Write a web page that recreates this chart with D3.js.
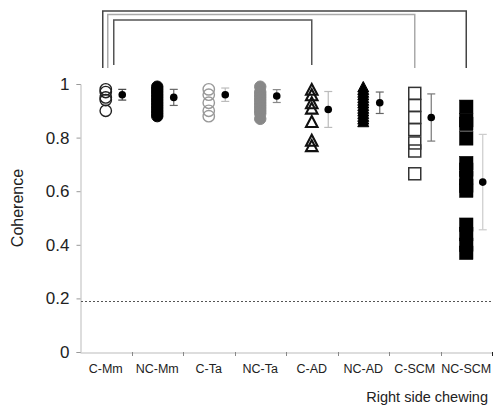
<!DOCTYPE html>
<html>
<head>
<meta charset="utf-8">
<script src="https://cdn.jsdelivr.net/npm/d3@7"></script>
<style>
  html, body { margin: 0; padding: 0; background: #fff; }
  svg { display: block; font-family: "Liberation Sans", Arial, sans-serif; }
</style>
</head>
<body>
<svg id="chart" width="495" height="409"></svg>
<script>
// ---- data ----
const categories = ["C-Mm", "NC-Mm", "C-Ta", "NC-Ta", "C-AD", "NC-AD", "C-SCM", "NC-SCM"];
const valuesCMm   = [0.98, 0.97, 0.95, 0.94, 0.90];
const valuesNCMm  = [0.99, 0.98, 0.97, 0.96, 0.95, 0.94, 0.93, 0.92, 0.91, 0.90, 0.89, 0.88];
const valuesCTa   = [0.98, 0.96, 0.93, 0.90, 0.88];
const valuesNCTa  = [0.99, 0.97, 0.96, 0.95, 0.94, 0.93, 0.92, 0.91, 0.90, 0.89, 0.87];
const valuesCAD   = [0.98, 0.96, 0.93, 0.91, 0.86, 0.79, 0.77];
const valuesNCAD  = [0.99, 0.98, 0.97, 0.96, 0.95, 0.94, 0.93, 0.92, 0.91, 0.90, 0.89, 0.88, 0.87, 0.86];
const valuesCSCM  = [0.965, 0.92, 0.875, 0.83, 0.78, 0.75, 0.665];
const valuesNCSCM = [0.915, 0.865, 0.851, 0.797, 0.705, 0.68, 0.65, 0.62, 0.602, 0.475, 0.44, 0.40, 0.37];
const means = [0.96, 0.95, 0.96, 0.955, 0.905, 0.93, 0.875, 0.634];
const sds   = [0.02, 0.03, 0.025, 0.024, 0.067, 0.04, 0.088, 0.178];
const yTicks = [0, 0.2, 0.4, 0.6, 0.8, 1];
const threshold = 0.19;
const brackets = [ // [from category, to category]
  ["C-Mm", "NC-SCM"],
  ["C-Mm", "C-SCM"],
  ["C-Mm", "C-AD"]
];
const yLabel = "Coherence";
const xLabel = "Right side chewing";

// ---- styles ----
const seriesValues = [valuesCMm, valuesNCMm, valuesCTa, valuesNCTa, valuesCAD, valuesNCAD, valuesCSCM, valuesNCSCM];
const markerStyle = [
  { shape: "circle",   fill: "none",  stroke: "#222", sw: 1.4 },
  { shape: "circle",   fill: "#000",  stroke: "#000", sw: 1 },
  { shape: "circle",   fill: "none",  stroke: "#999", sw: 1.4 },
  { shape: "circle",   fill: "#888",  stroke: "#888", sw: 1 },
  { shape: "triangle", fill: "none",  stroke: "#111", sw: 2.1 },
  { shape: "triangle", fill: "#000",  stroke: "#000", sw: 1 },
  { shape: "square",   fill: "none",  stroke: "#333", sw: 1.5 },
  { shape: "square",   fill: "#000",  stroke: "#000", sw: 0.5 }
];
const errColors = ["#444", "#666", "#bbb", "#888", "#bbb", "#666", "#777", "#ccc"];
const bracketStyle = [
  { color: "#444", y: 11, dx: -3, yEnd: 68 },
  { color: "#aaa", y: 14.5, dx: 2, yEnd: 68 },
  { color: "#555", y: 20, dx: 8, yEnd: 65 }
];

const svg = d3.select("#chart");
const x = d3.scaleBand().domain(categories).range([80, 492]);
const y = d3.scaleLinear().domain([0, 1]).range([352, 84]);
const cx = c => x(c) + x.bandwidth() / 2;

// y axis
const yAxis = svg.append("g").attr("transform", "translate(80.5,0)")
  .call(d3.axisLeft(y).tickValues(yTicks).tickFormat(d3.format("~g")).tickSize(4).tickPadding(7));
yAxis.select(".domain").attr("stroke", "#bbb");
yAxis.selectAll(".tick line").attr("stroke", "#999");
yAxis.selectAll(".tick text").attr("font-size", 17).attr("fill", "#222")
  .attr("font-family", "Liberation Sans, Arial, sans-serif");

// x axis
const xAxis = svg.append("g").attr("transform", "translate(0,352.5)")
  .call(d3.axisBottom(x).tickSize(0).tickPadding(12));
xAxis.select(".domain").attr("stroke", "#bbb");
xAxis.selectAll(".tick text").attr("font-size", 12.5).attr("fill", "#222")
  .attr("font-family", "Liberation Sans, Arial, sans-serif");
// boundary ticks
const bounds = categories.map(c => x(c)).concat([x.range()[1]]);
svg.append("g").selectAll("line").data(bounds.slice(1)).join("line")
  .attr("x1", d => Math.round(d) + 0.5).attr("x2", d => Math.round(d) + 0.5)
  .attr("y1", 352).attr("y2", 356)
  .attr("stroke", (d, i) => i === bounds.length - 2 ? "#222" : "#888");

// threshold dashed line
svg.append("line")
  .attr("x1", 81).attr("x2", 492)
  .attr("y1", Math.round(y(threshold)) + 0.5).attr("y2", Math.round(y(threshold)) + 0.5)
  .attr("stroke", "#555").attr("stroke-width", 1).attr("stroke-dasharray", "2,2");

// markers
const triPath = s => {
  const h = s * 0.95;
  return `M0,${-h / 2}L${s / 2},${h / 2}L${-s / 2},${h / 2}Z`;
};
categories.forEach((c, i) => {
  const st = markerStyle[i];
  const g = svg.append("g");
  const vals = seriesValues[i];
  if (st.shape === "circle") {
    g.selectAll("circle").data(vals).join("circle")
      .attr("cx", cx(c)).attr("cy", d => y(d)).attr("r", 5.7)
      .attr("fill", st.fill).attr("stroke", st.stroke).attr("stroke-width", st.sw);
  } else if (st.shape === "triangle") {
    g.selectAll("path").data(vals).join("path")
      .attr("d", triPath(st.fill === "none" ? 11.5 : 11))
      .attr("transform", d => `translate(${cx(c)},${y(d)})`)
      .attr("fill", st.fill).attr("stroke", st.stroke).attr("stroke-width", st.sw)
      .attr("stroke-linejoin", "miter");
  } else {
    const s = st.fill === "none" ? 12 : 13.5;
    g.selectAll("rect").data(vals).join("rect")
      .attr("x", cx(c) - s / 2).attr("y", d => y(d) - s / 2)
      .attr("width", s).attr("height", s)
      .attr("fill", st.fill).attr("stroke", st.stroke).attr("stroke-width", st.sw);
  }
  // mean +/- sd
  const mx = cx(c) + 16.5;
  const eg = svg.append("g").attr("stroke", errColors[i]).attr("stroke-width", 1.2);
  eg.append("line").attr("x1", mx).attr("x2", mx)
    .attr("y1", y(means[i] - sds[i])).attr("y2", y(means[i] + sds[i]));
  [means[i] - sds[i], means[i] + sds[i]].forEach(v => {
    eg.append("line").attr("x1", mx - 4).attr("x2", mx + 4)
      .attr("y1", y(v)).attr("y2", y(v));
  });
  svg.append("circle").attr("cx", mx).attr("cy", y(means[i])).attr("r", 3.8).attr("fill", "#000");
});

// significance brackets
brackets.forEach((b, i) => {
  const bs = bracketStyle[i];
  const x1 = cx(b[0]) + bs.dx, x2 = cx(b[1]);
  svg.append("path")
    .attr("d", `M${x1},${bs.yEnd}V${bs.y}H${x2}V${bs.yEnd}`)
    .attr("fill", "none").attr("stroke", bs.color).attr("stroke-width", 1.5);
});

// axis titles
svg.append("text")
  .attr("transform", `translate(23,${(y(0) + y(1)) / 2 - 10}) rotate(-90)`)
  .attr("text-anchor", "middle").attr("font-size", 16).attr("fill", "#222")
  .text(yLabel);
svg.append("text")
  .attr("x", 488).attr("y", 402).attr("text-anchor", "end")
  .attr("font-size", 14.5).attr("fill", "#222")
  .text(xLabel);
</script>
</body>
</html>
